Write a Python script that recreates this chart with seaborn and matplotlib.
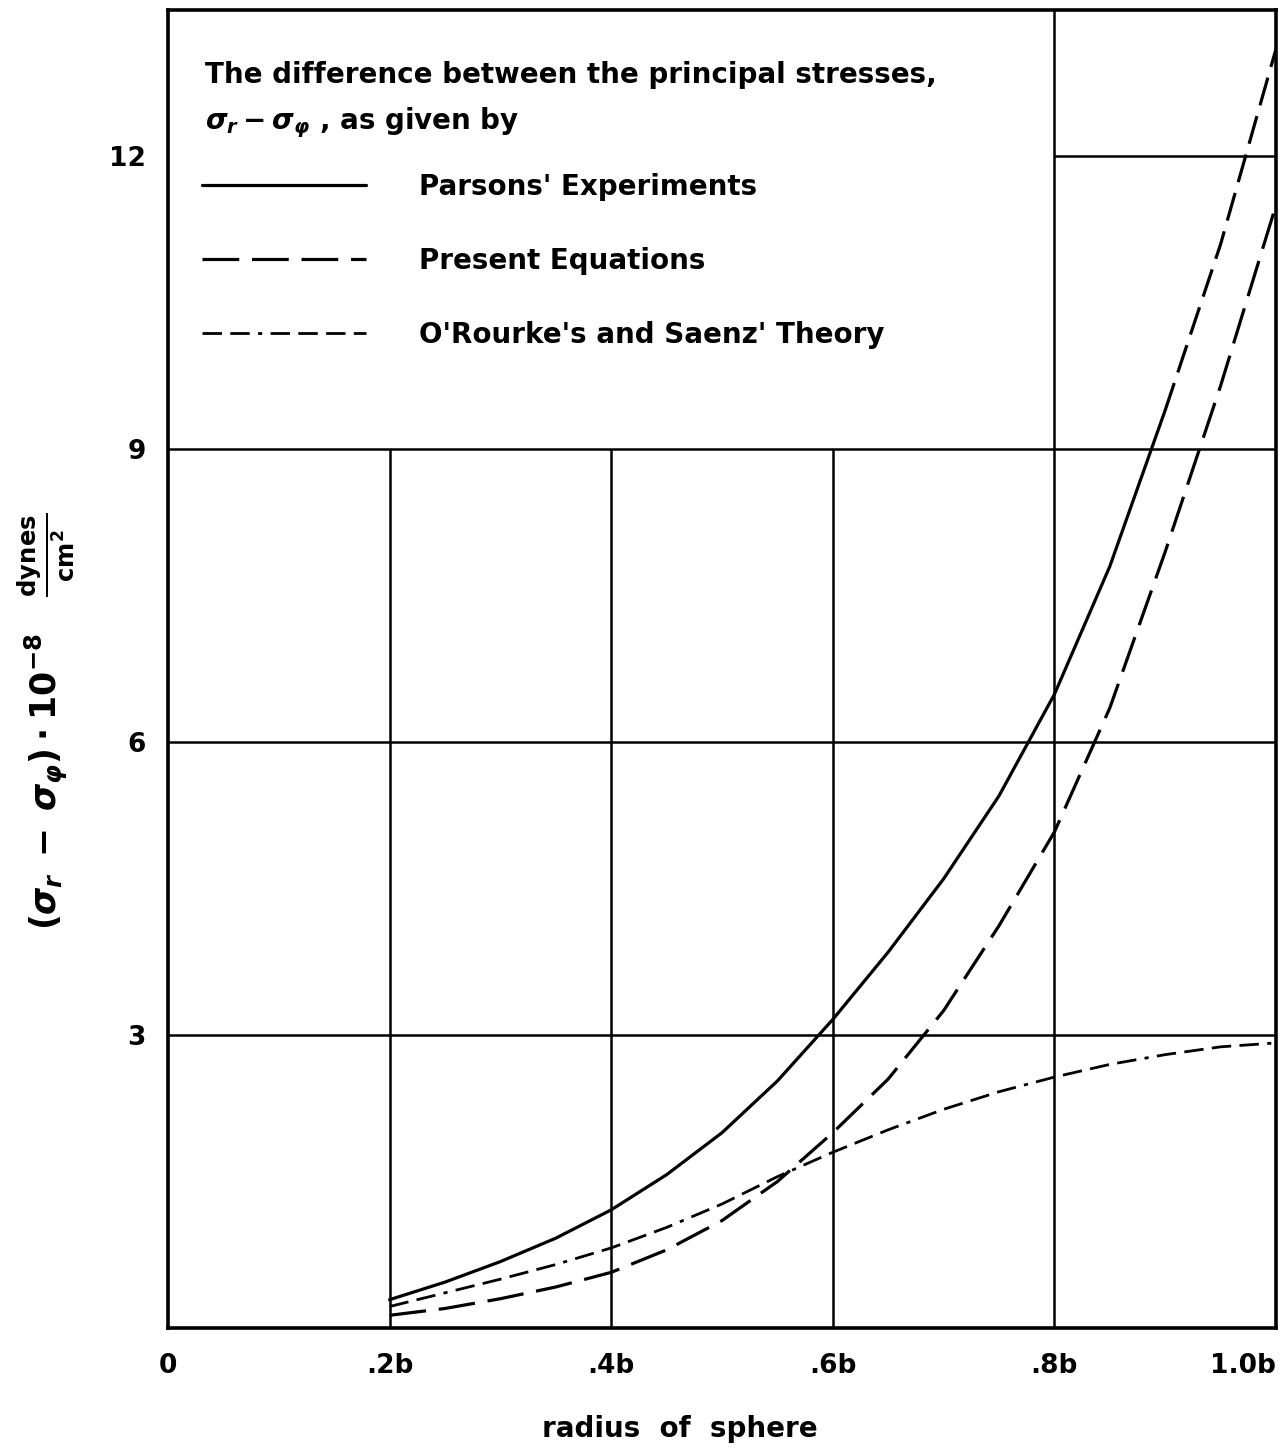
#import libraries
import seaborn as sns
import pandas
import matplotlib.pyplot as plt

#data (radius in units of b, stress difference * 1e-8 dynes/cm2)
radius = [0.20, 0.25, 0.30, 0.35, 0.40, 0.45, 0.50, 0.55, 0.60,
          0.65, 0.70, 0.75, 0.80, 0.85, 0.90, 0.95, 1.00]
parsons = [0.29, 0.47, 0.68, 0.92, 1.21, 1.57, 2.00, 2.53, 3.16,
           3.85, 4.60, 5.45, 6.49, 7.80, 9.40, 11.10, 13.10]
present = [0.13, 0.20, 0.30, 0.42, 0.57, 0.80, 1.10, 1.50, 2.00,
           2.55, 3.25, 4.12, 5.08, 6.35, 7.95, 9.65, 11.50]
orourke = [0.22, 0.36, 0.50, 0.65, 0.82, 1.03, 1.27, 1.55, 1.80,
           2.03, 2.24, 2.42, 2.57, 2.70, 2.80, 2.88, 2.92]
parsons_measured_to = 0.90   # beyond this the experimental curve is drawn dashed

x_ticks = [0, 0.2, 0.4, 0.6, 0.8, 1.0]
x_labels = ['0', '.2b', '.4b', '.6b', '.8b', '1.0b']
y_ticks = [3, 6, 9, 12]

df = pandas.DataFrame({'r': radius, 'parsons': parsons,
                       'present': present, 'orourke': orourke})
meas = df[df.r <= parsons_measured_to]
extr = df[df.r >= parsons_measured_to]

#implementations
sns.set_theme(style='white', rc={'text.color': 'black', 'axes.labelcolor': 'black',
                                 'xtick.color': 'black', 'ytick.color': 'black'})
plt.rcParams['font.family'] = ['DejaVu Sans']
plt.rcParams['font.weight'] = 'bold'
plt.rcParams['mathtext.fontset'] = 'dejavusans'

fig = plt.figure(figsize=(12.86, 14.49), dpi=100)
ax = fig.add_axes([0.1306, 0.0835, 0.8616, 0.9096])

#grid (no grid inside the legend area)
for xv in x_ticks[1:-1]:
    top = 13.5 if xv == 0.8 else 9
    ax.vlines(xv, 0, top, color='black', lw=1.8, zorder=1)
for yv in y_ticks[:-1]:
    ax.axhline(yv, color='black', lw=1.8, zorder=1)
ax.hlines(y_ticks[-1], 0.8, 1.0, color='black', lw=1.8, zorder=1)

#curves
lw = 2.3
sns.lineplot(x='r', y='parsons', data=meas, color='black', linewidth=lw,
             ax=ax, label="Parsons' Experiments")
sns.lineplot(x='r', y='parsons', data=extr, color='black', linewidth=lw,
             linestyle=(0, (9, 3.5)), ax=ax, label='_nolegend_')
sns.lineplot(x='r', y='present', data=df, color='black', linewidth=lw,
             linestyle=(0, (11.5, 4)), ax=ax, label='Present Equations')
sns.lineplot(x='r', y='orourke', data=df, color='black', linewidth=lw - 0.3,
             linestyle=(0, (7, 3, 7, 3, 1.5, 3, 7, 3, 7, 3)), ax=ax,
             label="O'Rourke's and Saenz' Theory")

#axes settings
ax.set_xlim(0, 1.0)
ax.set_ylim(0, 13.5)
ax.set_xticks(x_ticks)
ax.set_xticklabels(x_labels, fontsize=19, fontweight='bold')
ax.get_xticklabels()[-1].set_horizontalalignment('right')
ax.set_yticks(y_ticks)
ax.set_yticklabels([str(v) for v in y_ticks], fontsize=19, fontweight='bold')
ax.tick_params(axis='x', length=0, pad=18)
ax.tick_params(axis='y', direction='in', length=19, width=1.8, pad=16)
for s in ax.spines.values():
    s.set_linewidth(2.6)
    s.set_color('black')

ax.set_xlabel('radius  of  sphere', fontsize=20, fontweight='bold')
ax.xaxis.set_label_coords(0.462, -0.066)
ax.set_ylabel(r'$(\sigma_r\;-\;\sigma_\varphi)\cdot10^{-8}\ \ \ \frac{\mathbf{dynes}}{\mathbf{cm^2}}$',
              fontsize=25)
ax.yaxis.set_label_coords(-0.083, 0.46)

#legend header and legend
ax.text(0.033, 0.9507, 'The difference between the principal stresses,',
        transform=ax.transAxes, fontsize=20, fontweight='bold', va='center')
ax.text(0.033, 0.9143, r'$\sigma_r - \sigma_\varphi$ , as given by',
        transform=ax.transAxes, fontsize=20, fontweight='bold', va='center')
leg = ax.legend(loc='upper left', bbox_to_anchor=(0.031, 0.8765),
                frameon=False, fontsize=20, labelcolor='black',
                handlelength=5.9, handletextpad=1.9,
                labelspacing=1.66, borderpad=0, borderaxespad=0)

plt.savefig('out.png', dpi=100)
